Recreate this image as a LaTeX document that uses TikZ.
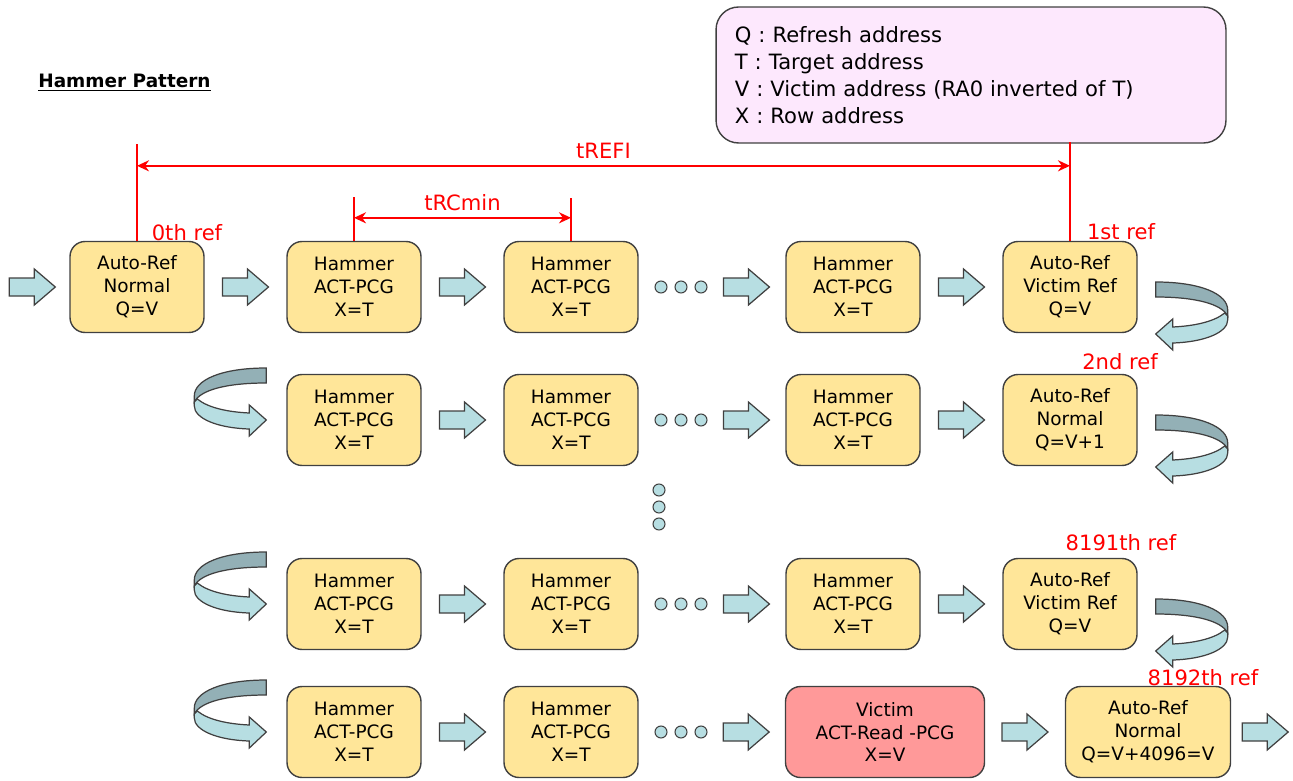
\documentclass[tikz,border=0pt]{standalone}
\usepackage{fontspec}
\setmainfont{DejaVu Sans}
\usetikzlibrary{arrows.meta,calc}
\definecolor{boxfill}{RGB}{255,230,153}
\definecolor{boxline}{RGB}{64,64,64}
\definecolor{vicfill}{RGB}{255,153,153}
\definecolor{arrfill}{RGB}{183,222,226}
\definecolor{curldark}{RGB}{147,176,182}
\definecolor{notefill}{RGB}{253,232,253}
\definecolor{refred}{RGB}{255,0,0}

\begin{document}
\begin{tikzpicture}[x=0.02cm, y=-0.02cm, >={Stealth[length=2.4mm,width=2.2mm]},
  box/.style={draw=boxline, fill=boxfill, line width=0.8pt, rounded corners=0.3cm,
              minimum width=2.68cm, minimum height=1.82cm, align=center,
              font=\fontsize{10.5}{13}\selectfont},
  dot/.style={circle, draw=boxline, fill=arrfill, line width=0.6pt, inner sep=0pt,
              minimum size=0.24cm},
  note/.style={draw=boxline, fill=notefill, line width=0.8pt, rounded corners=0.45cm,
               minimum width=10.2cm, minimum height=2.72cm, text width=9.45cm, align=left,
               font=\fontsize{12}{15.5}\selectfont},
  lbl/.style={text=refred, font=\fontsize{12}{14}\selectfont},
  tline/.style={refred, line width=1.1pt},
  blk/.pic={\filldraw[draw=boxline, fill=arrfill, line width=0.7pt]
    (-23,-9) -- (2,-9) -- (2,-18) -- (23,0) -- (2,18) -- (2,9) -- (-23,9) -- cycle;},
  curl/.pic={
    \filldraw[draw=boxline, fill=curldark, line width=0.7pt]
      (0,0) .. controls (45,0) and (72,12) .. (72,28) -- (72,34)
      .. controls (66,22) and (40,15) .. (0,15) -- cycle;
    \filldraw[draw=boxline, fill=arrfill, line width=0.7pt]
      (69,31) .. controls (58,40) and (38,44) .. (17,45) -- (17,37) -- (0,52)
      -- (17,68) -- (17,61) .. controls (50,60) and (72,50) .. (72,38) -- (72,34) -- cycle;}]
\useasboundingbox (0,0) rectangle (1293,780);

\node[font=\bfseries\fontsize{10.5}{12}\selectfont, anchor=west, inner sep=0pt] (title)
  at (38,83) {\underline{Hammer Pattern}};
\node[note] (key) at (971,75) {Q : Refresh address\\T : Target address\\
  V : Victim address (RA0 inverted of T)\\X : Row address};

\node[box] (a0) at (137,287) {Auto-Ref\\Normal\\Q=V};
\foreach \r/\y in {1/287,2/420,3/604,4/732}{
  \node[box] (h\r1) at (354,\y) {Hammer\\ACT-PCG\\X=T};
  \node[box] (h\r2) at (571,\y) {Hammer\\ACT-PCG\\X=T};
  \foreach \i/\x in {1/661,2/681,3/701}{\node[dot] (d\r\i) at (\x,\y) {};}}
\foreach \r/\y in {1/287,2/420,3/604}{\node[box] (h\r3) at (853,\y) {Hammer\\ACT-PCG\\X=T};}
\node[box] (a1) at (1070,287) {Auto-Ref\\Victim Ref\\Q=V};
\node[box] (a2) at (1070,420) {Auto-Ref\\Normal\\Q=V+1};
\node[box] (a3) at (1070,604) {Auto-Ref\\Victim Ref\\Q=V};
\node[box, fill=vicfill, minimum width=3.98cm] (vic) at (885,732) {Victim\\ACT-Read -PCG\\X=V};
\node[box, minimum width=3.3cm] (a4) at (1148,732) {Auto-Ref\\Normal\\Q=V+4096=V};
\foreach \i/\y in {1/490,2/507,3/524}{\node[dot] (v\i) at (659,\y) {};}

\pic at ($(a0.west)+(-37,0)$) {blk};
\foreach \p/\q in {a0/h11,h11/h12,d13/h13,h13/a1,h21/h22,d23/h23,h23/a2,
                   h31/h32,d33/h33,h33/a3,h41/h42,d43/vic,vic/a4}{
  \pic at ($(\p.east)!0.5!(\q.west)$) {blk};}
\pic at ($(a4.east)+(34,0)$) {blk};

\foreach \s in {a1,a2,a3}{\pic at ($(\s.east)+(18,-5)$) {curl};}
\foreach \s in {h21,h31,h41}{\pic[xscale=-1] at ($(\s.west)+(-20,-52)$) {curl};}

\coordinate (refL) at ($(a0.north)+(0,-75)$);
\coordinate (refR) at ($(a1.north)+(0,-75)$);
\coordinate (rcL) at ($(h11.north)+(0,-23)$);
\coordinate (rcR) at ($(h12.north)+(0,-23)$);
\draw[tline] (a0.north) -- ++(0,-97);
\draw[tline] (a1.north) -- ++(0,-99);
\draw[tline, <->] (refL) -- node[lbl, above] {tREFI} (refR);
\draw[tline] (h11.north) -- ++(0,-44);
\draw[tline] (h12.north) -- ++(0,-43);
\draw[tline, <->] (rcL) -- node[lbl, above] {tRCmin} (rcR);

\node[lbl] (r0) at (187,233) {0th ref};
\node[lbl] (r1) at (1121,232) {1st ref};
\node[lbl] (r2) at (1120,362) {2nd ref};
\node[lbl] (r8191) at (1121,543) {8191th ref};
\node[lbl] (r8192) at (1203,678) {8192th ref};
\end{tikzpicture}
\end{document}
